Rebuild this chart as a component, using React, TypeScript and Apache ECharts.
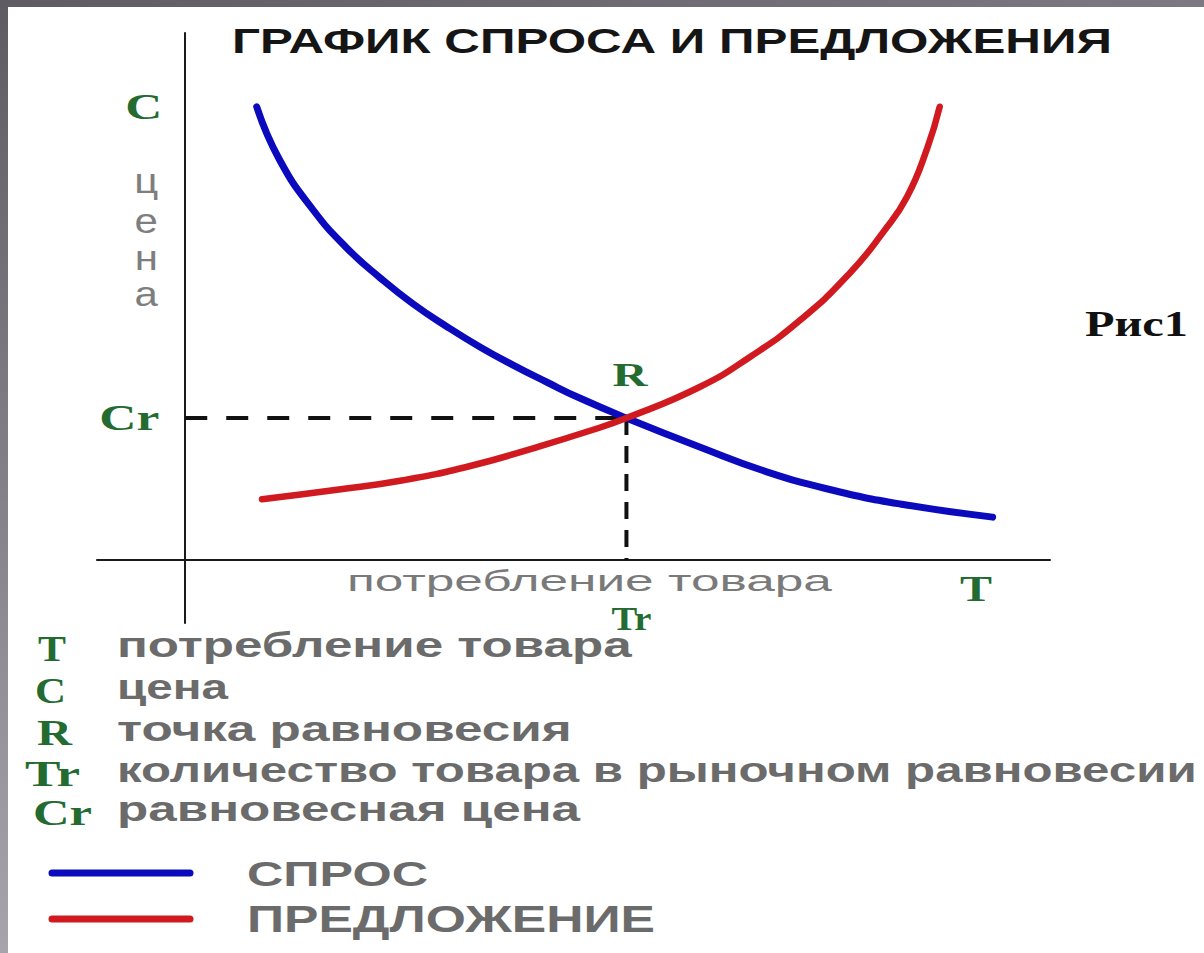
import React, { useEffect, useRef } from "react";
import * as echarts from "echarts";

// ---------- data ----------
const titleText = "ГРАФИК СПРОСА И ПРЕДЛОЖЕНИЯ";
const figureLabel = "Рис1";
const xAxisName = "потребление товара";
const yAxisLetters = ["ц", "е", "н", "а"];
const seriesNames = ["СПРОС", "ПРЕДЛОЖЕНИЕ"];

// demand curve (СПРОС): quantity, price
const demandX = [0.81, 1.07, 1.45, 1.83, 2.21, 2.58, 2.97, 3.34, 3.71, 4.1, 4.47, 5.0, 5.83, 6.59, 7.34, 8.1, 9.15];
const demandY = [8.6, 7.59, 6.64, 5.92, 5.35, 4.86, 4.42, 4.04, 3.7, 3.37, 3.07, 2.69, 2.14, 1.67, 1.32, 1.06, 0.81];

// supply curve (ПРЕДЛОЖЕНИЕ): quantity, price
const supplyX = [0.87, 1.72, 2.47, 3.23, 3.99, 4.55, 5.0, 5.83, 6.4, 6.97, 7.53, 7.91, 8.18, 8.41, 8.55];
const supplyY = [1.15, 1.33, 1.51, 1.78, 2.14, 2.43, 2.69, 3.28, 3.85, 4.55, 5.44, 6.22, 6.89, 7.82, 8.6];

// equilibrium point R (Tr, Cr)
const equilibrium = [5.0, 2.69];

const legendKeys = ["T", "C", "R", "Tr", "Cr"];
const legendTexts = [
  "потребление товара",
  "цена",
  "точка равновесия",
  "количество товара в рыночном равновесии",
  "равновесная цена",
];

// ---------- styling helpers ----------
const SANS = "'Liberation Sans', Arial, sans-serif";
const SERIF = "'Liberation Serif', 'Times New Roman', serif";
const GREEN = "#236b30";
const BLUE = "#0b0bbd";
const RED = "#d11a1f";

let measureCtx: CanvasRenderingContext2D | null = null;
function measure(text: string, font: string): number {
  if (!measureCtx) measureCtx = document.createElement("canvas").getContext("2d");
  if (!measureCtx) return 1;
  measureCtx.font = font;
  return measureCtx.measureText(text).width || 1;
}

function txt(
  text: string,
  x: number,
  y: number,
  width: number | null,
  size: number,
  weight: string,
  family: string,
  fill: string,
  align: string = "left",
  scale?: number
) {
  const font = `${weight} ${size}px ${family}`;
  const s = scale != null ? scale : width != null ? width / measure(text, font) : 1;
  return {
    type: "text",
    x,
    y,
    scaleX: s,
    z: 20,
    silent: true,
    style: { text, font, fill, align, verticalAlign: "middle" },
  };
}

export default function App() {
  const ref = useRef<HTMLDivElement>(null);

  useEffect(() => {
    if (!ref.current) return;
    const chart = echarts.init(ref.current, null, { renderer: "svg" });

    const demand = demandX.map((x, i) => [x, demandY[i]]);
    const supply = supplyX.map((x, i) => [x, supplyY[i]]);

    chart.setOption({
      animation: false,
      backgroundColor: "#ffffff",
      grid: { left: 97, right: 154, top: 33, bottom: 330 },
      xAxis: {
        type: "value",
        min: -1,
        max: 9.8,
        axisLine: { onZero: true, lineStyle: { color: "#1a1a1a", width: 2 } },
        axisTick: { show: false },
        axisLabel: { show: false },
        splitLine: { show: false },
      },
      yAxis: {
        type: "value",
        min: -1.2,
        max: 10,
        axisLine: { onZero: true, lineStyle: { color: "#1a1a1a", width: 2 } },
        axisTick: { show: false },
        axisLabel: { show: false },
        splitLine: { show: false },
      },
      series: [
        {
          type: "line",
          name: "Cr",
          data: [[0, equilibrium[1]], [equilibrium[0], equilibrium[1]]],
          symbol: "none",
          lineStyle: { color: "#111", width: 4, type: [22, 19] },
          z: 2,
        },
        {
          type: "line",
          name: "Tr",
          data: [[equilibrium[0], equilibrium[1]], [equilibrium[0], 0]],
          symbol: "none",
          lineStyle: { color: "#111", width: 4, type: [17, 11] },
          z: 2,
        },
        {
          type: "line",
          name: seriesNames[0],
          data: demand,
          symbol: "none",
          smooth: 0.5,
          lineStyle: { color: BLUE, width: 7, cap: "round" },
          z: 3,
        },
        {
          type: "line",
          name: seriesNames[1],
          data: supply,
          symbol: "none",
          smooth: 0.5,
          lineStyle: { color: RED, width: 6.5, cap: "round" },
          z: 4,
        },
      ],
    });

    const pR = chart.convertToPixel({ gridIndex: 0 }, equilibrium) as number[];
    const p0 = chart.convertToPixel({ gridIndex: 0 }, [0, 0]) as number[];

    const elements: any[] = [];
    // frame
    elements.push({
      type: "rect",
      shape: { x: 0, y: 0, width: 1204, height: 7 },
      style: {
        fill: new echarts.graphic.LinearGradient(0, 0, 1, 0, [
          { offset: 0, color: "#5f5b63" },
          { offset: 1, color: "#7d7982" },
        ]),
      },
      z: 30,
    });
    elements.push({
      type: "rect",
      shape: { x: 0, y: 0, width: 8, height: 953 },
      style: {
        fill: new echarts.graphic.LinearGradient(0, 0, 0, 1, [
          { offset: 0, color: "#5f5b63" },
          { offset: 1, color: "#a8a4ad" },
        ]),
      },
      z: 30,
    });

    // title
    elements.push(txt(titleText, 232, 40, 880, 36, "bold", SANS, "#151515"));
    // figure label
    elements.push(txt(figureLabel, 1085, 324, 103, 35, "bold", SERIF, "#111"));

    // axis letters
    elements.push(txt("C", p0[0] - 60, 107, 37, 36, "bold", SERIF, GREEN));
    const letterY = [184, 224, 261, 297];
    yAxisLetters.forEach((l, i) => {
      elements.push(txt(l, p0[0] - 39, letterY[i] - 3, null, 35, "normal", SANS, "#7e7e7e", "center", 1.2));
    });
    elements.push(txt("Cr", p0[0] - 86, pR[1], 60, 35, "bold", SERIF, GREEN));
    elements.push(txt("R", pR[0] - 14, pR[1] - 43, 35, 33, "bold", SERIF, GREEN));
    elements.push(txt("Tr", pR[0] - 15, p0[1] + 59, 40, 34, "bold", SERIF, GREEN));
    elements.push(txt("T", 960, p0[1] + 30, 32, 35, "bold", SERIF, GREEN));
    elements.push(txt(xAxisName, 347, 581, 485, 30, "normal", SANS, "#7a7a7a"));

    // legend of symbols
    const rowY = [648, 690, 732, 773, 812];
    const keyLeft = [38, 35, 37, 25, 33];
    const keyW = [28, 31, 35, 55, 59];
    const textW = [515, 111, 455, 1080, 463];
    legendKeys.forEach((k, i) => {
      elements.push(txt(k, keyLeft[i], rowY[i] + 1, keyW[i], 35, "bold", SERIF, GREEN));
      elements.push(txt(legendTexts[i], 117, rowY[i] - 3, textW[i], 35, "bold", SANS, "#6b6b6b"));
    });

    // series legend
    const legendColors = [BLUE, RED];
    const legendY = [873, 919];
    const legendW = [181, 408];
    seriesNames.forEach((n, i) => {
      elements.push({
        type: "line",
        shape: { x1: 52, y1: legendY[i], x2: 190, y2: legendY[i] },
        style: { stroke: legendColors[i], lineWidth: 7, lineCap: "round" },
        z: 20,
      });
      elements.push(txt(n, 247, legendY[i], legendW[i], 36, "bold", SANS, "#6b6b6b"));
    });

    chart.setOption({ graphic: { elements } });

    return () => chart.dispose();
  }, []);

  return (
    <div
      ref={ref}
      style={{ position: "fixed", left: 0, top: 0, width: 1204, height: 953, background: "#fff" }}
    />
  );
}
